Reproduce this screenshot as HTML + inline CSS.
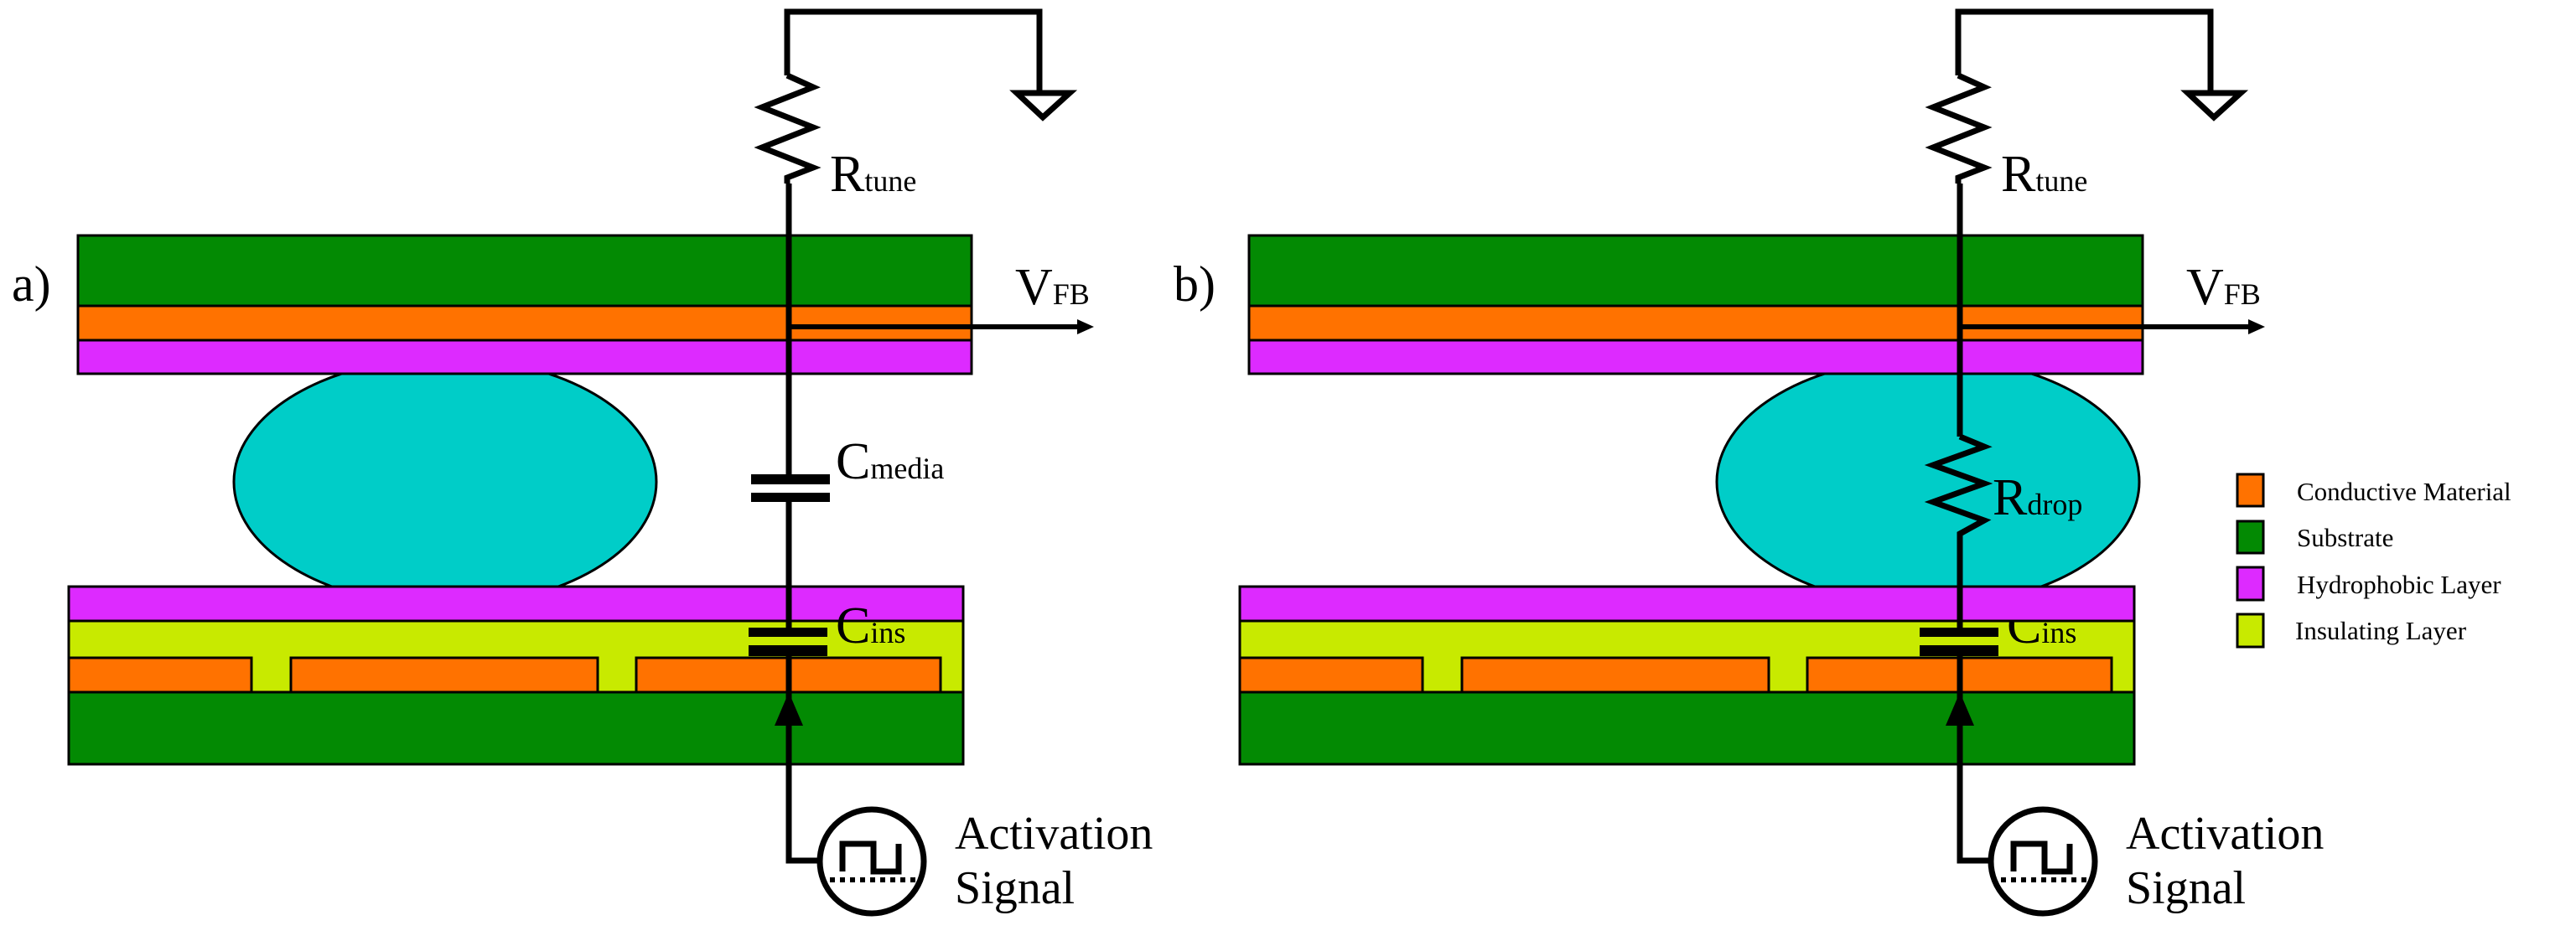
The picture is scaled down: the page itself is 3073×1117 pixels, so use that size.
<!DOCTYPE html>
<html><head><meta charset="utf-8"><style>html,body{margin:0;padding:0;background:#fff}svg{display:block}svg text{font-family:"Liberation Serif","Times New Roman",serif !important;fill:#000}</style></head><body>
<svg width="3073" height="1117" viewBox="0 0 3073 1117" xmlns="http://www.w3.org/2000/svg" font-family="Liberation Serif, serif">
<defs>
<g id="panel">
  <ellipse cx="531" cy="575" rx="252" ry="148" fill="#00cdc8" stroke="#000" stroke-width="3"/>
  <rect x="93" y="281" width="1066" height="84" fill="#038a03" stroke="#000" stroke-width="3"/>
  <rect x="93" y="365" width="1066" height="41" fill="#ff7200" stroke="#000" stroke-width="3"/>
  <rect x="93" y="406" width="1066" height="40" fill="#dd2aff" stroke="#000" stroke-width="3"/>
  <rect x="82" y="700" width="1067" height="41" fill="#dd2aff" stroke="#000" stroke-width="3"/>
  <rect x="82" y="741" width="1067" height="85" fill="#c8ea00" stroke="#000" stroke-width="3"/>
  <rect x="82" y="785" width="218" height="41" fill="#ff7200" stroke="#000" stroke-width="3"/>
  <rect x="347" y="785" width="366" height="41" fill="#ff7200" stroke="#000" stroke-width="3"/>
  <rect x="759" y="785" width="363" height="41" fill="#ff7200" stroke="#000" stroke-width="3"/>
  <rect x="82" y="826" width="1067" height="86" fill="#038a03" stroke="#000" stroke-width="3"/>
  <polyline points="939,90 939,14 1240,14 1240,111" fill="none" stroke="#000" stroke-width="7"/>
  <polygon points="1213,111 1276,111 1244,140" fill="#fff" stroke="#000" stroke-width="7"/>
  <polyline points="939,90 970,104 909,128 970,152 909,176 970,200 939,212 939,219" fill="none" stroke="#000" stroke-width="7"/>
  <text x="990" y="228" font-size="62" font-family="Liberation Serif, serif">R<tspan font-size="36">tune</tspan></text>
  <line x1="939" y1="390" x2="1290" y2="390" stroke="#000" stroke-width="6"/>
  <polygon points="1305,390 1285,381 1285,399" fill="#000"/>
  <text x="1211" y="363" font-size="62" font-family="Liberation Serif, serif">V<tspan font-size="36">FB</tspan></text>
  <rect x="893" y="749" width="94" height="11" fill="#000"/>
  <rect x="893" y="770" width="94" height="13" fill="#000"/>
  <text x="997" y="767" font-size="62" font-family="Liberation Serif, serif">C<tspan font-size="36">ins</tspan></text>
  <polygon points="941,826 924,866 958,866" fill="#000"/>
  <polyline points="941,783 941,1027 977,1027" fill="none" stroke="#000" stroke-width="7"/>
  <circle cx="1040" cy="1028" r="62" fill="#fff" stroke="#000" stroke-width="7"/>
  <polyline points="1005,1040 1005,1007 1042,1007 1042,1040 1072,1040 1072,1007" fill="none" stroke="#000" stroke-width="7"/>
  <line x1="990" y1="1050" x2="1092" y2="1050" stroke="#000" stroke-width="6" stroke-dasharray="6,6"/>
  <text x="1139" y="1013" font-size="56" font-family="Liberation Serif, serif">Activation</text>
  <text x="1139" y="1078" font-size="56" font-family="Liberation Serif, serif">Signal</text>
</g>
</defs>
<use href="#panel"/>
<text x="14" y="359" font-size="60" font-family="Liberation Serif, serif">a)</text>
<line x1="941" y1="219" x2="941" y2="566" stroke="#000" stroke-width="7"/>
<rect x="896" y="566" width="94" height="12" fill="#000"/>
<rect x="896" y="588" width="94" height="11" fill="#000"/>
<line x1="941" y1="599" x2="941" y2="750" stroke="#000" stroke-width="7"/>
<text x="997" y="571" font-size="62" font-family="Liberation Serif, serif">C<tspan font-size="36">media</tspan></text>
<g transform="translate(1397,0)">
  <use href="#panel"/>
</g>
<text x="1400" y="359" font-size="60" font-family="Liberation Serif, serif">b)</text>
<rect x="1491" y="447" width="1063" height="252" fill="#fff"/>
<ellipse cx="2300" cy="575" rx="252" ry="148" fill="#00cdc8" stroke="#000" stroke-width="3"/>
<rect x="1490" y="406" width="1066" height="40" fill="#dd2aff" stroke="#000" stroke-width="3"/>
<rect x="1479" y="700" width="1067" height="41" fill="#dd2aff" stroke="#000" stroke-width="3"/>
<line x1="2338" y1="219" x2="2338" y2="521" stroke="#000" stroke-width="7"/>
<polyline points="2338,521 2367,533 2306,555 2367,577 2306,599 2367,621 2338,637 2338,750" fill="none" stroke="#000" stroke-width="7"/>
<text x="2377" y="614" font-size="62" font-family="Liberation Serif, serif">R<tspan font-size="36">drop</tspan></text>
<rect x="2669" y="566" width="31" height="38" fill="#ff7200" stroke="#000" stroke-width="3"/>
<rect x="2669" y="622" width="31" height="38" fill="#038a03" stroke="#000" stroke-width="3"/>
<rect x="2669" y="677" width="31" height="39" fill="#dd2aff" stroke="#000" stroke-width="3"/>
<rect x="2669" y="733" width="31" height="39" fill="#c8ea00" stroke="#000" stroke-width="3"/>
<text x="2740" y="597" font-size="31" font-family="Liberation Serif, serif">Conductive Material</text>
<text x="2740" y="652" font-size="31" font-family="Liberation Serif, serif">Substrate</text>
<text x="2740" y="708" font-size="31" font-family="Liberation Serif, serif">Hydrophobic Layer</text>
<text x="2738" y="763" font-size="31" font-family="Liberation Serif, serif">Insulating Layer</text>
</svg>
</body></html>
